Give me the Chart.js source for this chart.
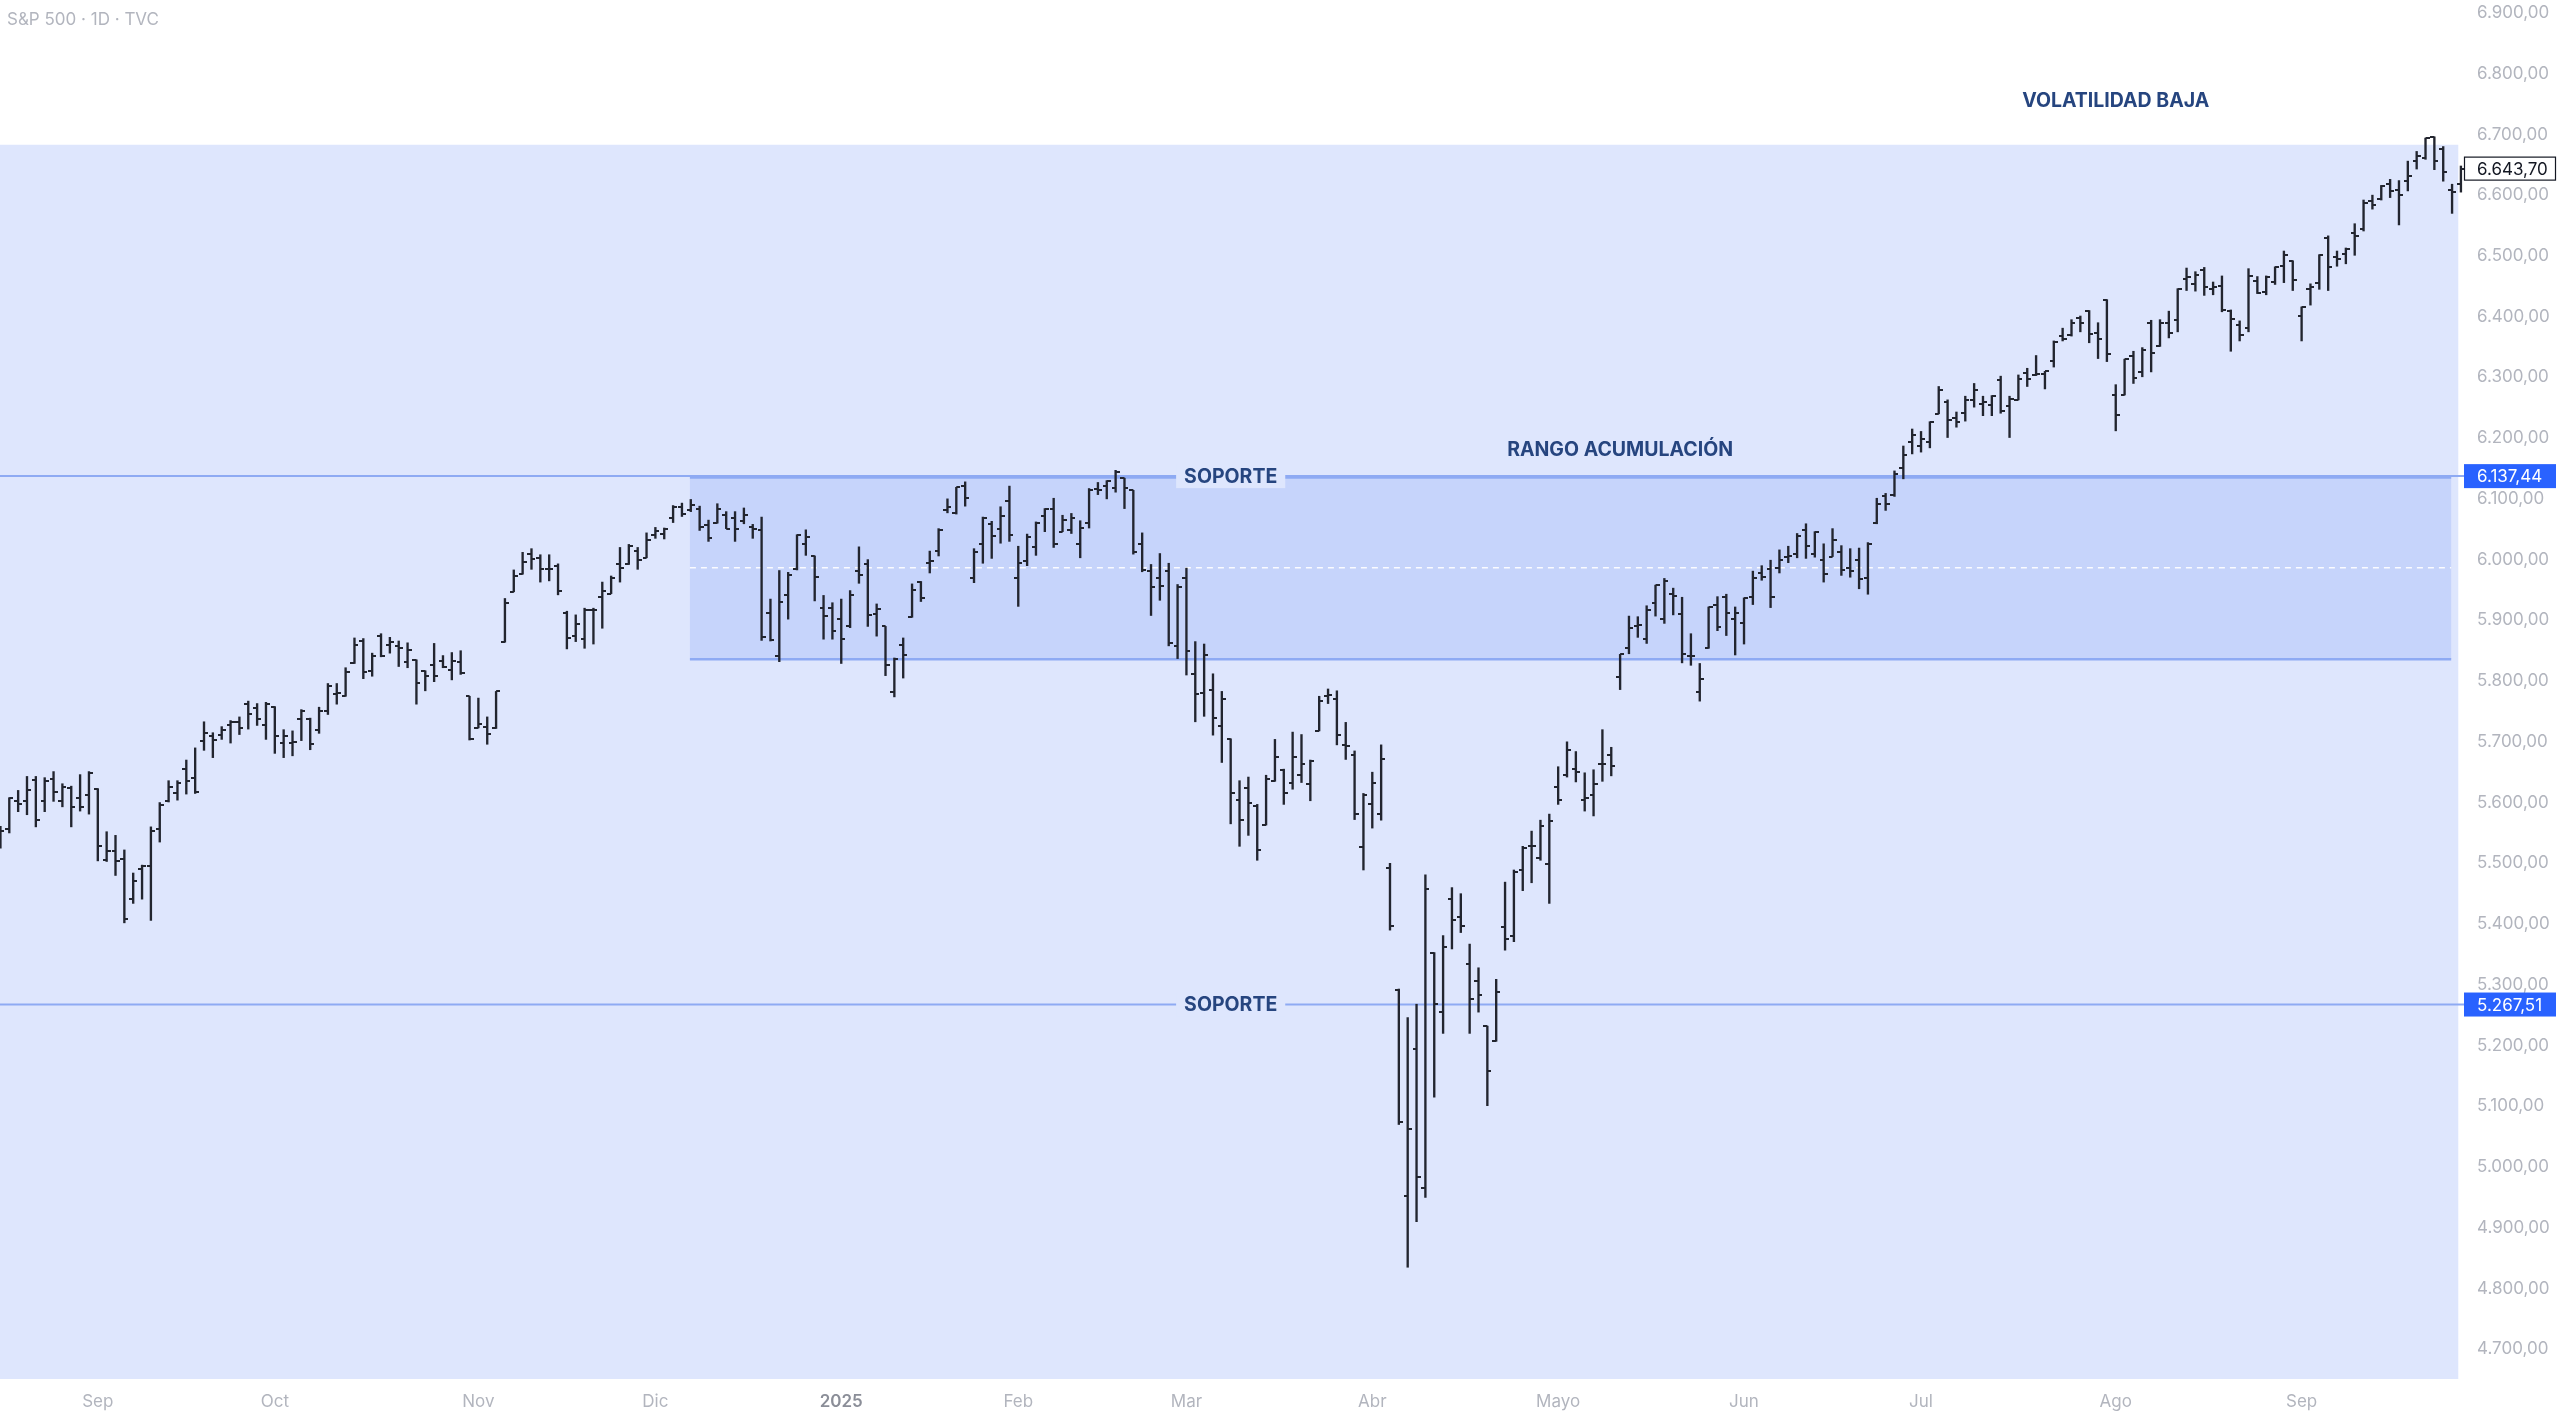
<!DOCTYPE html>
<html lang="es">

<head>
    <meta charset="UTF-8">
    <title>S&P 500 · 1D · TVC</title>
    <script src="https://cdn.jsdelivr.net/npm/chart.js"></script>
    <style>
        html,
        body {
            margin: 0;
            padding: 0;
            background: #ffffff;
        }

        .wrap {
            position: relative;
            width: 2560px;
            height: 1416px;
        }

        .ticker {
            position: absolute;
            left: 7px;
            top: 9px;
            font: 17px Inter, 'Noto Sans', sans-serif;
            color: #b2b5be;
        }
    </style>
</head>

<body>
    <div class="wrap">
        <canvas id="spxChart"></canvas>
        <div class="ticker">S&amp;P 500 · 1D · TVC</div>
    </div>

    <script>
        // trading days shown on the chart
        const days = [
            '2024-08-16', '2024-08-19', '2024-08-20', '2024-08-21', '2024-08-22', '2024-08-23', '2024-08-26', '2024-08-27', '2024-08-28', '2024-08-29', '2024-08-30',
            '2024-09-03', '2024-09-04', '2024-09-05', '2024-09-06', '2024-09-09', '2024-09-10', '2024-09-11', '2024-09-12', '2024-09-13', '2024-09-16',
            '2024-09-17', '2024-09-18', '2024-09-19', '2024-09-20', '2024-09-23', '2024-09-24', '2024-09-25', '2024-09-26', '2024-09-27', '2024-09-30',
            '2024-10-01', '2024-10-02', '2024-10-03', '2024-10-04', '2024-10-07', '2024-10-08', '2024-10-09', '2024-10-10', '2024-10-11', '2024-10-14',
            '2024-10-15', '2024-10-16', '2024-10-17', '2024-10-18', '2024-10-21', '2024-10-22', '2024-10-23', '2024-10-24', '2024-10-25', '2024-10-28',
            '2024-10-29', '2024-10-30', '2024-10-31',
            '2024-11-01', '2024-11-04', '2024-11-05', '2024-11-06', '2024-11-07', '2024-11-08', '2024-11-11', '2024-11-12', '2024-11-13', '2024-11-14',
            '2024-11-15', '2024-11-18', '2024-11-19', '2024-11-20', '2024-11-21', '2024-11-22', '2024-11-25', '2024-11-26', '2024-11-27', '2024-11-29',
            '2024-12-02', '2024-12-03', '2024-12-04', '2024-12-05', '2024-12-06', '2024-12-09', '2024-12-10', '2024-12-11', '2024-12-12', '2024-12-13',
            '2024-12-16', '2024-12-17', '2024-12-18', '2024-12-19', '2024-12-20', '2024-12-23', '2024-12-24', '2024-12-26', '2024-12-27', '2024-12-30',
            '2024-12-31',
            '2025-01-02', '2025-01-03', '2025-01-06', '2025-01-07', '2025-01-08', '2025-01-10', '2025-01-13', '2025-01-14', '2025-01-15', '2025-01-16',
            '2025-01-17', '2025-01-21', '2025-01-22', '2025-01-23', '2025-01-24', '2025-01-27', '2025-01-28', '2025-01-29', '2025-01-30', '2025-01-31',
            '2025-02-03', '2025-02-04', '2025-02-05', '2025-02-06', '2025-02-07', '2025-02-10', '2025-02-11', '2025-02-12', '2025-02-13', '2025-02-14',
            '2025-02-18', '2025-02-19', '2025-02-20', '2025-02-21', '2025-02-24', '2025-02-25', '2025-02-26', '2025-02-27', '2025-02-28',
            '2025-03-03', '2025-03-04', '2025-03-05', '2025-03-06', '2025-03-07', '2025-03-10', '2025-03-11', '2025-03-12', '2025-03-13', '2025-03-14',
            '2025-03-17', '2025-03-18', '2025-03-19', '2025-03-20', '2025-03-21', '2025-03-24', '2025-03-25', '2025-03-26', '2025-03-27', '2025-03-28',
            '2025-03-31',
            '2025-04-01', '2025-04-02', '2025-04-03', '2025-04-04', '2025-04-07', '2025-04-08', '2025-04-09', '2025-04-10', '2025-04-11', '2025-04-14',
            '2025-04-15', '2025-04-16', '2025-04-17', '2025-04-21', '2025-04-22', '2025-04-23', '2025-04-24', '2025-04-25', '2025-04-28', '2025-04-29',
            '2025-04-30',
            '2025-05-01', '2025-05-02', '2025-05-05', '2025-05-06', '2025-05-07', '2025-05-08', '2025-05-09', '2025-05-12', '2025-05-13', '2025-05-14',
            '2025-05-15', '2025-05-16', '2025-05-19', '2025-05-20', '2025-05-21', '2025-05-22', '2025-05-23', '2025-05-27', '2025-05-28', '2025-05-29',
            '2025-05-30',
            '2025-06-02', '2025-06-03', '2025-06-04', '2025-06-05', '2025-06-06', '2025-06-09', '2025-06-10', '2025-06-11', '2025-06-12', '2025-06-13',
            '2025-06-16', '2025-06-17', '2025-06-18', '2025-06-20', '2025-06-23', '2025-06-24', '2025-06-25', '2025-06-26', '2025-06-27', '2025-06-30',
            '2025-07-01', '2025-07-02', '2025-07-03', '2025-07-07', '2025-07-08', '2025-07-09', '2025-07-10', '2025-07-11', '2025-07-14', '2025-07-15',
            '2025-07-16', '2025-07-17', '2025-07-18', '2025-07-21', '2025-07-22', '2025-07-23', '2025-07-24', '2025-07-25', '2025-07-28', '2025-07-29',
            '2025-07-30', '2025-07-31',
            '2025-08-01', '2025-08-04', '2025-08-05', '2025-08-06', '2025-08-07', '2025-08-08', '2025-08-11', '2025-08-12', '2025-08-13', '2025-08-14',
            '2025-08-15', '2025-08-18', '2025-08-19', '2025-08-20', '2025-08-21', '2025-08-22', '2025-08-25', '2025-08-26', '2025-08-27', '2025-08-28',
            '2025-08-29',
            '2025-09-02', '2025-09-03', '2025-09-04', '2025-09-05', '2025-09-08', '2025-09-09', '2025-09-10', '2025-09-11', '2025-09-12', '2025-09-15',
            '2025-09-16', '2025-09-17', '2025-09-18', '2025-09-19', '2025-09-22', '2025-09-23', '2025-09-24', '2025-09-25', '2025-09-26'
        ];

        const opens = [
            5530, 5557, 5602, 5603, 5637, 5602, 5639, 5602, 5624, 5607, 5613,
            5623, 5506, 5520, 5507, 5442, 5490, 5496, 5557, 5603, 5615, 5655, 5641, 5702, 5709, 5711, 5727, 5733, 5762, 5755, 5727,
            5758, 5698, 5698, 5737, 5737, 5719, 5751, 5778, 5775, 5829, 5866, 5816, 5875, 5859, 5857, 5832, 5834, 5817, 5826, 5833, 5819, 5832, 5775,
            5723, 5725, 5722, 5864, 5947, 5976, 6009, 6003, 5985, 5990, 5912, 5874, 5870, 5917, 5938, 5944, 5992, 5992, 6014, 6003,
            6040, 6042, 6069, 6086, 6081, 6083, 6057, 6060, 6074, 6068, 6063, 6053, 6048, 5912, 5842, 5941, 5985, 6025, 6006, 5920, 5920,
            5903, 5891, 5982, 5993, 5910, 5890, 5782, 5859, 5905, 5963, 5995, 6014, 6081, 6076, 6121, 5969, 6026, 6058, 6050, 6096,
            5969, 5998, 6020, 6072, 6083, 6046, 6049, 6025, 6060, 6116, 6121, 6118, 6134, 6114, 6026, 5982, 5970, 5981, 5857,
            5969, 5812, 5781, 5786, 5726, 5705, 5604, 5624, 5594, 5563, 5635, 5654, 5633, 5646, 5630, 5718, 5775, 5771, 5695, 5679, 5527,
            5598, 5581, 5492, 5292, 4953, 5194, 4966, 5353, 5255, 5441, 5411, 5335, 5306, 5232, 5207, 5395, 5381, 5489, 5529, 5508, 5499,
            5626, 5645, 5655, 5605, 5613, 5663, 5679, 5807, 5854, 5890, 5869, 5929, 5902, 5944, 5910, 5842, 5782, 5855, 5925, 5939, 5903,
            5896, 5938, 5978, 5985, 5987, 6005, 6010, 6049, 6010, 6000, 6005, 6012, 5987, 5999, 5969, 6061, 6104, 6107, 6151, 6193,
            6187, 6193, 6240, 6260, 6233, 6242, 6263, 6256, 6255, 6295, 6253, 6263, 6307, 6304, 6306, 6327, 6368, 6370, 6397, 6409, 6373, 6428,
            6271, 6271, 6336, 6309, 6389, 6351, 6389, 6395, 6462, 6453, 6476, 6446, 6450, 6410, 6387, 6381, 6458, 6441, 6457, 6483, 6492,
            6401, 6445, 6456, 6530, 6499, 6503, 6537, 6545, 6590, 6594, 6619, 6609, 6623, 6657, 6662, 6696, 6676, 6608, 6618
        ];

        const highs = [
            5561, 5608, 5620, 5643, 5643, 5641, 5651, 5631, 5627, 5646, 5651,
            5623, 5552, 5546, 5522, 5484, 5497, 5560, 5600, 5636, 5636, 5670, 5690, 5733, 5715, 5725, 5735, 5741, 5767, 5763, 5765,
            5758, 5720, 5718, 5753, 5739, 5757, 5796, 5796, 5822, 5871, 5870, 5846, 5878, 5872, 5866, 5863, 5835, 5817, 5862, 5842, 5847, 5850, 5775,
            5772, 5741, 5783, 5936, 5983, 6012, 6018, 6008, 6008, 5993, 5915, 5909, 5920, 5920, 5963, 5973, 6020, 6025, 6020, 6044,
            6053, 6052, 6089, 6093, 6099, 6088, 6065, 6092, 6079, 6079, 6085, 6058, 6070, 5935, 5982, 5979, 6041, 6049, 6006, 5941, 5929,
            5935, 5949, 6021, 6000, 5927, 5890, 5838, 5871, 5960, 5964, 6014, 6051, 6100, 6119, 6128, 6018, 6070, 6063, 6087, 6121,
            6022, 6042, 6062, 6084, 6101, 6073, 6076, 6064, 6117, 6127, 6130, 6147, 6134, 6114, 6044, 5992, 6010, 5994, 5959,
            5986, 5865, 5861, 5812, 5783, 5705, 5636, 5642, 5597, 5645, 5704, 5655, 5716, 5712, 5670, 5775, 5787, 5784, 5732, 5685, 5615,
            5650, 5695, 5500, 5293, 5246, 5268, 5481, 5353, 5381, 5460, 5450, 5367, 5328, 5232, 5309, 5469, 5489, 5528, 5553, 5571, 5581,
            5659, 5700, 5684, 5649, 5654, 5720, 5691, 5844, 5907, 5906, 5924, 5958, 5969, 5953, 5938, 5878, 5829, 5922, 5939, 5943, 5922,
            5937, 5981, 5990, 5999, 6016, 6022, 6043, 6059, 6046, 6026, 6051, 6023, 6018, 6019, 6028, 6101, 6109, 6146, 6187, 6215,
            6211, 6227, 6285, 6263, 6243, 6269, 6290, 6269, 6270, 6302, 6269, 6304, 6315, 6336, 6310, 6360, 6381, 6395, 6401, 6410, 6390, 6428,
            6288, 6330, 6343, 6349, 6394, 6395, 6409, 6446, 6480, 6474, 6481, 6457, 6467, 6411, 6393, 6479, 6466, 6467, 6482, 6508, 6492,
            6416, 6454, 6502, 6533, 6508, 6513, 6553, 6592, 6600, 6616, 6626, 6624, 6656, 6672, 6694, 6696, 6680, 6618, 6648
        ];

        const lows = [
            5525, 5550, 5585, 5580, 5560, 5585, 5602, 5593, 5560, 5586, 5581,
            5504, 5503, 5480, 5402, 5434, 5441, 5406, 5535, 5601, 5604, 5614, 5615, 5686, 5674, 5704, 5698, 5712, 5721, 5727, 5704,
            5681, 5674, 5677, 5702, 5687, 5714, 5745, 5762, 5775, 5829, 5804, 5808, 5840, 5846, 5824, 5822, 5762, 5784, 5799, 5822, 5802, 5811, 5703,
            5723, 5696, 5722, 5864, 5947, 5976, 5984, 5963, 5965, 5942, 5853, 5865, 5854, 5861, 5887, 5944, 5963, 5992, 5984, 6003,
            6035, 6034, 6061, 6071, 6079, 6048, 6030, 6060, 6051, 6030, 6059, 6035, 5867, 5866, 5832, 5902, 5983, 6007, 5932, 5869, 5869,
            5829, 5888, 5961, 5890, 5874, 5809, 5774, 5805, 5905, 5931, 5978, 6006, 6077, 6075, 6088, 5962, 5994, 6002, 6027, 6030,
            5923, 5990, 6007, 6046, 6020, 6046, 6043, 6003, 6052, 6107, 6100, 6111, 6084, 6009, 5980, 5908, 5933, 5858, 5837,
            5810, 5733, 5742, 5711, 5666, 5565, 5528, 5546, 5505, 5563, 5635, 5597, 5622, 5633, 5603, 5718, 5763, 5695, 5671, 5572, 5489,
            5558, 5571, 5390, 5070, 4835, 4910, 4950, 5115, 5220, 5359, 5386, 5220, 5255, 5101, 5207, 5357, 5371, 5455, 5468, 5505, 5434,
            5597, 5642, 5634, 5586, 5578, 5635, 5644, 5786, 5845, 5872, 5862, 5907, 5895, 5909, 5830, 5826, 5767, 5854, 5883, 5875, 5843,
            5861, 5926, 5966, 5921, 5978, 5995, 6003, 6002, 6004, 5963, 6005, 5974, 5971, 5952, 5943, 6059, 6081, 6104, 6133, 6174,
            6177, 6184, 6240, 6201, 6218, 6228, 6251, 6237, 6237, 6241, 6201, 6263, 6285, 6303, 6281, 6317, 6360, 6368, 6375, 6357, 6331, 6326,
            6212, 6271, 6290, 6301, 6309, 6351, 6365, 6375, 6443, 6442, 6435, 6436, 6408, 6343, 6360, 6375, 6438, 6436, 6453, 6456, 6443,
            6360, 6419, 6445, 6443, 6483, 6487, 6501, 6541, 6577, 6592, 6596, 6551, 6607, 6643, 6659, 6642, 6623, 6570, 6605
        ];

        const closes = [
            5554, 5608, 5597, 5621, 5571, 5635, 5617, 5626, 5592, 5592, 5648,
            5529, 5520, 5503, 5408, 5471, 5496, 5554, 5596, 5626, 5633, 5635, 5618, 5714, 5703, 5719, 5733, 5722, 5745, 5738, 5762,
            5709, 5710, 5700, 5751, 5696, 5751, 5792, 5780, 5815, 5860, 5815, 5842, 5841, 5865, 5854, 5851, 5797, 5809, 5808, 5824, 5833, 5814, 5705,
            5729, 5713, 5783, 5929, 5973, 5996, 6001, 5984, 5985, 5949, 5871, 5894, 5917, 5917, 5949, 5969, 5987, 6022, 5999, 6032,
            6047, 6050, 6086, 6075, 6090, 6053, 6035, 6084, 6051, 6051, 6074, 6050, 5872, 5867, 5931, 5974, 6040, 6038, 5971, 5907, 5882,
            5869, 5942, 5975, 5909, 5918, 5827, 5836, 5843, 5950, 5937, 5997, 6049, 6086, 6119, 6101, 6012, 6068, 6039, 6071, 6041,
            5995, 6038, 6061, 6084, 6026, 6066, 6069, 6052, 6115, 6115, 6130, 6144, 6118, 6013, 5983, 5955, 5956, 5862, 5955,
            5850, 5778, 5843, 5739, 5770, 5615, 5572, 5599, 5522, 5639, 5675, 5615, 5675, 5663, 5668, 5768, 5777, 5712, 5693, 5581, 5612,
            5633, 5671, 5397, 5074, 5062, 4983, 5457, 5268, 5363, 5406, 5397, 5276, 5283, 5158, 5288, 5376, 5485, 5525, 5529, 5561, 5569,
            5604, 5687, 5650, 5607, 5631, 5664, 5660, 5844, 5887, 5893, 5917, 5958, 5964, 5940, 5845, 5842, 5803, 5922, 5889, 5912, 5912,
            5936, 5970, 5971, 5939, 6000, 6006, 6039, 6022, 6045, 5977, 6033, 5983, 5981, 5968, 6025, 6092, 6092, 6141, 6173, 6205,
            6198, 6227, 6279, 6230, 6226, 6263, 6280, 6260, 6269, 6244, 6264, 6297, 6297, 6306, 6310, 6359, 6363, 6389, 6390, 6371, 6363, 6339,
            6238, 6330, 6299, 6345, 6340, 6389, 6373, 6445, 6466, 6468, 6449, 6449, 6411, 6396, 6370, 6467, 6439, 6466, 6481, 6502, 6460,
            6416, 6448, 6502, 6482, 6495, 6512, 6532, 6587, 6584, 6615, 6607, 6600, 6632, 6664, 6694, 6657, 6638, 6605, 6643.70
        ];

        // x axis: first trading day of each month and its label
        const monthStarts = ['2024-09-03', '2024-10-01', '2024-11-01', '2024-12-02', '2025-01-02', '2025-02-03', '2025-03-03',
            '2025-04-01', '2025-05-01', '2025-06-02', '2025-07-01', '2025-08-01', '2025-09-02'];
        const monthLabels = ['Sep', 'Oct', 'Nov', 'Dic', '2025', 'Feb', 'Mar', 'Abr', 'Mayo', 'Jun', 'Jul', 'Ago', 'Sep'];

        // y axis ticks
        const priceTicks = [4700, 4800, 4900, 5000, 5100, 5200, 5300, 5400, 5500, 5600, 5700, 5800,
            5900, 6000, 6100, 6200, 6300, 6400, 6500, 6600, 6700, 6800, 6900];

        // drawn levels
        const supportLevels = [6137.44, 5267.51];
        const rangeTop = 6137.44;
        const rangeBottom = 5836;
        const lowVolTop = 6683;

        const barColor = '#22252f';
        const regionColor = '#dee6fd';
        const rangeColor = '#c6d4fb';
        const lineColor = '#8eaaf3';
        const noteColor = '#26457f';

        const monthIdx = monthStarts.map(d => days.indexOf(d));
        const idx = d => days.indexOf(d);

        function fmtPrice(v) {
            const parts = Number(v).toFixed(2).split('.');
            return parts[0].replace(/\B(?=(\d{3})+(?!\d))/g, '.') + ',' + parts[1];
        }

        // little open / close ticks as point images
        function tickImage(side) {
            const c = document.createElement('canvas');
            c.width = 8;
            c.height = 2;
            const g = c.getContext('2d');
            g.fillStyle = barColor;
            g.fillRect(side === 'left' ? 0 : 4, 0, 4, 2);
            return c;
        }

        function noteLabel(ctx, text, px, py, bg) {
            ctx.font = '700 19.5px Inter, "Noto Sans", sans-serif';
            ctx.textAlign = 'center';
            ctx.textBaseline = 'middle';
            if (bg) {
                const w = ctx.measureText(text).width;
                ctx.fillStyle = bg;
                ctx.fillRect(px - w / 2 - 8, py - 12, w + 16, 24);
            }
            ctx.fillStyle = noteColor;
            ctx.fillText(text, px, py + 1);
        }

        function priceTag(ctx, area, yPix, text, fill, stroke, color) {
            const x0 = area.right - 4, w = 92, h = 24;
            ctx.fillStyle = fill;
            ctx.fillRect(x0, yPix - h / 2, w, h);
            if (stroke) {
                ctx.strokeStyle = stroke;
                ctx.lineWidth = 1.2;
                ctx.strokeRect(x0 + 0.5, yPix - h / 2 + 0.5, w - 1, h - 1);
            }
            ctx.font = '17px Inter, "Noto Sans", sans-serif';
            ctx.textAlign = 'left';
            ctx.textBaseline = 'middle';
            ctx.fillStyle = color;
            ctx.fillText(text, area.right + 9, yPix + 1);
        }

        const drawings = {
            id: 'drawings',
            beforeDatasetsDraw(chart) {
                const { ctx, chartArea: a, scales: { x, y } } = chart;
                ctx.save();

                // low volatility zone
                const zr = x.getPixelForValue(idx('2025-09-25') + 0.7);
                const zt = y.getPixelForValue(lowVolTop);
                ctx.fillStyle = regionColor;
                ctx.fillRect(a.left, zt, zr - a.left, a.bottom - zt);

                // accumulation range
                const rl = x.getPixelForValue(idx('2024-12-06') - 0.1);
                const rr = x.getPixelForValue(idx('2025-09-24') + 0.9);
                const rt = y.getPixelForValue(rangeTop);
                const rb = y.getPixelForValue(rangeBottom);
                ctx.fillStyle = rangeColor;
                ctx.fillRect(rl, rt, rr - rl, rb - rt);
                ctx.strokeStyle = lineColor;
                ctx.lineWidth = 2.5;
                ctx.beginPath();
                ctx.moveTo(rl, rt + 1.5);
                ctx.lineTo(rr, rt + 1.5);
                ctx.moveTo(rl, rb);
                ctx.lineTo(rr, rb);
                ctx.stroke();

                // range midline
                const rm = y.getPixelForValue((rangeTop + rangeBottom) / 2);
                ctx.strokeStyle = 'rgba(255,255,255,0.9)';
                ctx.lineWidth = 1.5;
                ctx.setLineDash([6, 5]);
                ctx.beginPath();
                ctx.moveTo(rl, rm);
                ctx.lineTo(rr, rm);
                ctx.stroke();
                ctx.setLineDash([]);

                // support lines
                ctx.strokeStyle = lineColor;
                ctx.lineWidth = 2;
                supportLevels.forEach(lv => {
                    const py = y.getPixelForValue(lv);
                    ctx.beginPath();
                    ctx.moveTo(a.left, py);
                    ctx.lineTo(a.right, py);
                    ctx.stroke();
                });
                ctx.restore();
            },
            afterDraw(chart) {
                const { ctx, chartArea: a, scales: { x, y } } = chart;
                ctx.save();
                const sx = x.getPixelForValue(idx('2025-03-10'));
                supportLevels.forEach(lv => noteLabel(ctx, 'SOPORTE', sx, y.getPixelForValue(lv), regionColor));
                noteLabel(ctx, 'RANGO ACUMULACIÓN', x.getPixelForValue(idx('2025-05-12')), y.getPixelForValue(6182), null);
                noteLabel(ctx, 'VOLATILIDAD BAJA', x.getPixelForValue(idx('2025-08-01')), y.getPixelForValue(6757), null);

                const last = closes[closes.length - 1];
                priceTag(ctx, a, y.getPixelForValue(last), fmtPrice(last), '#ffffff', '#131722', '#131722');
                supportLevels.forEach(lv => priceTag(ctx, a, y.getPixelForValue(lv), fmtPrice(lv), '#2962ff', null, '#ffffff'));
                ctx.restore();
            }
        };

        const ctx = document.getElementById('spxChart').getContext('2d');
        const spxChart = new Chart(ctx, {
            type: 'bar',
            data: {
                datasets: [{
                    label: 'Rango',
                    data: days.map((d, i) => ({ x: i, y: [lows[i], highs[i]] })),
                    backgroundColor: barColor,
                    borderWidth: 0,
                    barThickness: 1.7,
                    grouped: false,
                    order: 3
                }, {
                    type: 'scatter',
                    label: 'Apertura',
                    data: days.map((d, i) => ({ x: i, y: opens[i] })),
                    pointStyle: tickImage('left'),
                    pointRadius: 3,
                    order: 2
                }, {
                    type: 'scatter',
                    label: 'Cierre',
                    data: days.map((d, i) => ({ x: i, y: closes[i] })),
                    pointStyle: tickImage('right'),
                    pointRadius: 3,
                    order: 1
                }]
            },
            options: {
                responsive: true,
                maintainAspectRatio: false,
                animation: false,
                events: [],
                layout: { padding: 0, autoPadding: false },
                plugins: {
                    legend: { display: false },
                    tooltip: { enabled: false }
                },
                scales: {
                    x: {
                        type: 'linear',
                        offset: false,
                        min: -0.05,
                        max: 278.8,
                        grid: { display: false, drawTicks: false },
                        border: { display: false },
                        afterBuildTicks: s => { s.ticks = monthIdx.map(v => ({ value: v })); },
                        afterFit: s => { s.height = 37; s.paddingLeft = 0; s.paddingRight = 0; },
                        ticks: {
                            autoSkip: false,
                            maxRotation: 0,
                            padding: 13,
                            callback: v => monthLabels[monthIdx.indexOf(v)] || '',
                            color: c => (c.tick && c.tick.value === idx('2025-01-02')) ? '#8b8e98' : '#b2b5be',
                            font: c => ({
                                family: 'Inter, "Noto Sans", sans-serif',
                                size: 17,
                                weight: (c.tick && c.tick.value === idx('2025-01-02')) ? '600' : '400'
                            })
                        }
                    },
                    y: {
                        position: 'right',
                        min: 4651,
                        max: 6921.3,
                        beginAtZero: false,
                        grid: { display: false, drawTicks: false },
                        border: { display: false },
                        afterBuildTicks: s => { s.ticks = priceTicks.map(v => ({ value: v })); },
                        afterFit: s => { s.width = 92; s.paddingTop = 0; s.paddingBottom = 0; },
                        ticks: {
                            padding: 9,
                            color: '#b2b5be',
                            font: { family: 'Inter, "Noto Sans", sans-serif', size: 17 },
                            callback: v => fmtPrice(v)
                        }
                    }
                }
            },
            plugins: [drawings]
        });
    </script>
</body>

</html>
